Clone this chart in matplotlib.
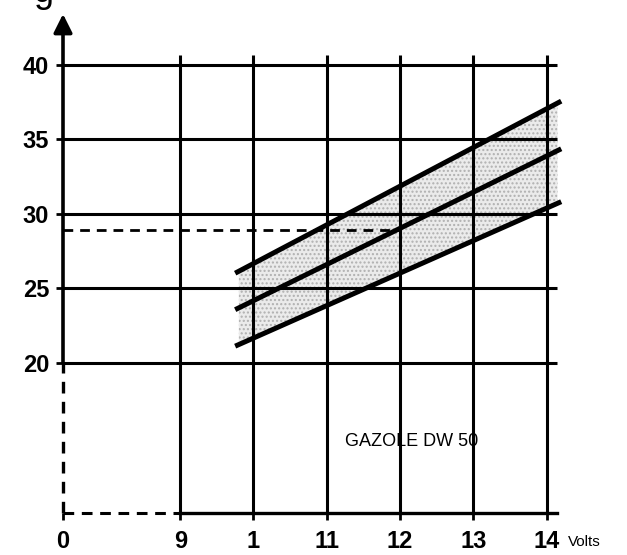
import numpy as np
import matplotlib
matplotlib.use('Agg')
import matplotlib.pyplot as plt

"""
Values read off the chart (volts on x, y in chart units)
"""
x_ticks = [7.4, 9, 10, 11, 12, 13, 14]
x_labels = ['0', '9', '1', '11', '12', '13', '14']
y_ticks = [20, 25, 30, 35, 40]
y_labels = ['20', '25', '30', '35', '40']
origin = (7.4, 9.9)

line_x = [9.75, 14.2]
upper = [26.0, 37.55]
middle = [23.55, 34.35]
lower = [21.1, 30.8]
shade_x = [9.8, 14.15]
ref_level = 28.9      # dashed reading at 12 V
ref_volt = 12

plt.rcParams['font.family'] = ['Liberation Sans', 'DejaVu Sans']

fig = plt.figure(figsize=(6.27, 5.55), dpi=100)
ax = fig.add_axes([63/627, 42/555, 564/627, 513/555])
ax.set_xlim(origin[0], 15.098)
ax.set_ylim(origin[1], 44.34)
for s in ax.spines.values():
    s.set_visible(False)

grid_right = 14.14
grid_top = 40.65
lw_grid = 2.2

# grid
for y in y_ticks:
    ax.plot([origin[0], grid_right], [y, y], color='black', lw=lw_grid, clip_on=False, solid_capstyle='butt')
for x in x_ticks[1:]:
    ax.plot([x, x], [origin[1], grid_top], color='black', lw=lw_grid, clip_on=False, solid_capstyle='butt')

# axes (broken near origin)
ax.plot([origin[0], origin[0]], [origin[1], 20], color='black', lw=2.4, ls=(0, (3.5, 2.5)), clip_on=False)
ax.plot([origin[0], 9], [origin[1], origin[1]], color='black', lw=2.2, ls=(0, (3.5, 2.5)), clip_on=False)
ax.plot([9, grid_right], [origin[1], origin[1]], color='black', lw=2.4, clip_on=False)
ax.annotate('', xy=(origin[0], 43.4), xytext=(origin[0], 20),
            arrowprops=dict(arrowstyle='-|>', lw=2.6, color='black', mutation_scale=28,
                            shrinkA=0, shrinkB=0), annotation_clip=False)

# shaded band
xs = np.array(shade_x)
up = np.interp(xs, line_x, upper)
lo = np.interp(xs, line_x, lower)
ax.fill_between(xs, lo, up, facecolor='#ebebeb', edgecolor='none', zorder=0)
ax.fill_between(xs, lo, up, facecolor='none', edgecolor='#b0b0b0', hatch='....', lw=0, zorder=0)

# three characteristic lines
for yy in [upper, middle, lower]:
    ax.plot(line_x, yy, color='black', lw=3.6, solid_capstyle='butt')

# dashed reading line
ax.plot([origin[0], ref_volt], [ref_level, ref_level], color='black', lw=2.0, ls=(0, (3.5, 2.5)))

# ticks
ax.set_xticks(x_ticks)
ax.set_xticklabels(x_labels, fontsize=17, fontweight='bold')
ax.set_yticks(y_ticks)
ax.set_yticklabels(y_labels, fontsize=17, fontweight='bold')
ax.tick_params(axis='x', direction='out', length=5, width=2, pad=7)
ax.tick_params(axis='y', direction='out', length=5, width=2, pad=5)

ax.annotate('Volts', xy=(14.29, 0), xycoords=ax.get_xaxis_transform(), xytext=(0, -21),
            textcoords='offset points', ha='left', va='center', fontsize=11, annotation_clip=False)
ax.text(11.25, 14.68, 'GAZOLE DW 50', ha='left', va='center', fontsize=13)
fig.text(43/627, 1 - 2/555, 'g', ha='center', va='baseline', fontsize=26)

plt.savefig('out.png', dpi=100)
plt.close()
